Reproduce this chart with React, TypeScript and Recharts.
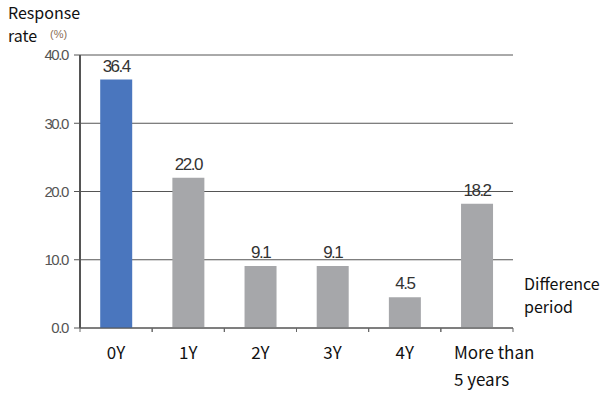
import React from 'react';
import { BarChart, Bar, XAxis, YAxis, CartesianGrid, Cell, LabelList } from 'recharts';

const categories = ['0Y', '1Y', '2Y', '3Y', '4Y', 'More than 5 years'];
const responseRates = [36.4, 22.0, 9.1, 9.1, 4.5, 18.2];
const yTicks = [0, 10, 20, 30, 40];

const data = categories.map((name, i) => ({ name, rate: responseRates[i] }));

const W = 609;
const H = 396;
const margin = { top: 55, right: 96, bottom: 8, left: 0 };
const xAxisHeight = 60;
const yAxisWidth = 80;
const band = (W - margin.left - margin.right - yAxisWidth) / categories.length;

const labelFont = '"Noto Sans CJK KR", "Noto Sans", sans-serif';
const numFont = '"Liberation Sans", Arial, sans-serif';

const XTick = (props: any) => {
  const { x, y, payload } = props;
  const v: string = payload.value;
  const ticks = (
    <g stroke="#666" strokeWidth={1}>
      <line x1={x - band / 2} x2={x - band / 2} y1={y - 8} y2={y - 4} />
      <line x1={x + band / 2} x2={x + band / 2} y1={y - 8} y2={y - 4} />
    </g>
  );
  if (v.startsWith('More')) {
    return (
      <g>
        {ticks}
        <text x={x - 23} y={y + 23} fontSize={17} fill="#111" fontFamily={labelFont}>
          <tspan x={x - 23} dy={0}>More than</tspan>
          <tspan x={x - 23} dy={27}>5 years</tspan>
        </text>
      </g>
    );
  }
  return (
    <g>
      {ticks}
      <text x={x} y={y + 23} textAnchor="middle" fontSize={17} fill="#111" fontFamily={labelFont}>
        {v}
      </text>
    </g>
  );
};

const App: React.FC = () => {
  return (
    <div style={{ position: 'absolute', left: 0, top: 0, width: W, height: H, background: '#fff' }}>
      <BarChart width={W} height={H} data={data} margin={margin} barCategoryGap="28%">
        <CartesianGrid vertical={false} stroke="#555" strokeWidth={1} />
        <XAxis
          dataKey="name"
          height={xAxisHeight}
          tick={<XTick />}
          tickLine={false}
          axisLine={{ stroke: '#555' }}
          interval={0}
        />
        <YAxis
          width={yAxisWidth}
          domain={[0, 40]}
          ticks={yTicks}
          tickFormatter={(v: number) => v.toFixed(1)}
          axisLine={{ stroke: '#555', strokeWidth: 2 }}
          tickLine={{ stroke: '#555' }}
          tickSize={6}
          tickMargin={6}
          tick={{ fontSize: 15, fill: '#555', fontFamily: numFont, letterSpacing: -1.4 }}
        />
        <Bar dataKey="rate" isAnimationActive={false}>
          {data.map((d, i) => (
            <Cell key={d.name} fill={i === 0 ? '#4a76be' : '#a6a7aa'} />
          ))}
          <LabelList
            dataKey="rate"
            position="top"
            offset={8}
            formatter={(v: any) => Number(v).toFixed(1)}
            style={{ fontSize: 17, fill: '#333', fontFamily: numFont, letterSpacing: -1.5 }}
          />
        </Bar>
      </BarChart>
      <div style={{ position: 'absolute', left: 8, top: 1, fontFamily: labelFont, fontSize: 16, lineHeight: '22px', color: '#111' }}>
        Response
      </div>
      <div style={{ position: 'absolute', left: 8, top: 24, fontFamily: labelFont, fontSize: 16, lineHeight: '22px', color: '#111' }}>
        rate
      </div>
      <div style={{ position: 'absolute', left: 50, top: 28, fontFamily: numFont, fontSize: 11, color: '#8a6e55' }}>(%)</div>
      <div style={{ position: 'absolute', left: 524, top: 272, fontFamily: labelFont, fontSize: 16, lineHeight: '22px', color: '#111' }}>
        Difference
      </div>
      <div style={{ position: 'absolute', left: 524, top: 295, fontFamily: labelFont, fontSize: 16, lineHeight: '22px', color: '#111' }}>
        period
      </div>
    </div>
  );
};

export default App;
